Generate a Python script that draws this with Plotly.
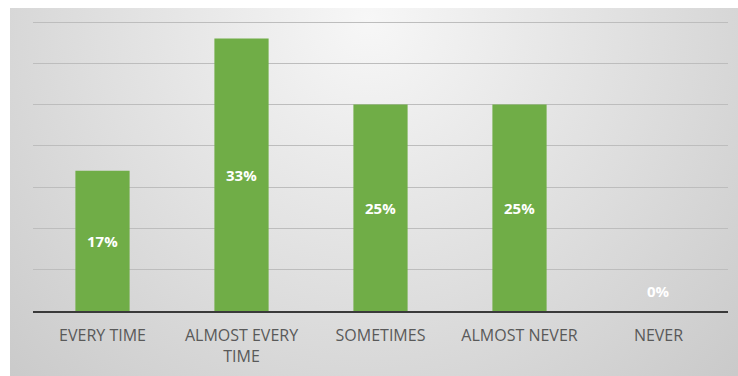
import plotly.graph_objects as go

# Survey responses: share of answers per frequency category (%)
categories = ["EVERY TIME", "ALMOST EVERY TIME", "SOMETIMES", "ALMOST NEVER", "NEVER"]
tick_labels = ["EVERY TIME", "ALMOST EVERY<br>TIME", "SOMETIMES", "ALMOST NEVER", "NEVER"]
values = [17, 33, 25, 25, 0]
value_labels = [f"{v}%" for v in values]

W, H = 738, 376
BAR_GREEN = "#70ad47"
TEXT_GREY = "#595959"

# vertical layout of the value axis, in pixels from the top
BASE_PX, TOP_GRID_PX, TOP_GRID_VAL, Y_MAX = 311, 22, 35, 36
px_per_unit = (BASE_PX - TOP_GRID_PX) / TOP_GRID_VAL
top_px = BASE_PX - Y_MAX * px_per_unit

fig = go.Figure()

# Soft radial backdrop drawn on a full-figure helper axis (pixel units)
cx, cy, r = 369, 20, 520
fig.add_trace(go.Scatter(
    x=[cx - r, cx + r, cx + r, cx - r, cx - r],
    y=[cy - r, cy - r, cy + r, cy + r, cy - r],
    mode="lines", line=dict(width=0), fill="toself",
    fillgradient=dict(type="radial", colorscale=[[0, "#f7f7f7"], [1, "#c9c9c9"]]),
    hoverinfo="skip", showlegend=False, xaxis="x", yaxis="y",
))

# The bars
fig.add_trace(go.Bar(
    x=categories, y=values, marker=dict(color=BAR_GREEN, line=dict(width=0)),
    width=0.39, hoverinfo="skip", showlegend=False, xaxis="x2", yaxis="y2",
))

# Value labels centred in each bar (just above the axis for an empty bar)
for cat, v, lab in zip(categories, values, value_labels):
    fig.add_annotation(
        x=cat, y=v / 2 if v > 0 else 0, xref="x2", yref="y2", text=lab,
        showarrow=False, yanchor="middle", yshift=0 if v > 0 else 20,
        font=dict(family="Open Sans", size=15, color="#ffffff", weight="bold"),
    )

fig.update_layout(
    width=W, height=H, margin=dict(l=0, r=0, t=0, b=0),
    paper_bgcolor="#ffffff", plot_bgcolor="rgba(0,0,0,0)",
    xaxis=dict(domain=[10 / W, 1], range=[10, W], visible=False, fixedrange=True),
    yaxis=dict(domain=[0, 1 - 8 / H], range=[H, 8], visible=False, fixedrange=True),
    xaxis2=dict(
        domain=[33 / W, 728 / W], anchor="y2", type="category",
        tickmode="array", tickvals=categories, ticktext=tick_labels,
        showline=True, linecolor="#3a3a3a", linewidth=2, ticks="",
        ticklabelstandoff=9,
        showgrid=False, tickfont=dict(family="Open Sans", size=16, color=TEXT_GREY),
    ),
    yaxis2=dict(
        domain=[(H - BASE_PX) / H, (H - top_px) / H], anchor="x2", range=[0, Y_MAX],
        dtick=5, showticklabels=False, showgrid=True, gridcolor="#bdbdbd",
        gridwidth=1, zeroline=False, showline=False,
    ),
)

fig.write_html("out.html")
